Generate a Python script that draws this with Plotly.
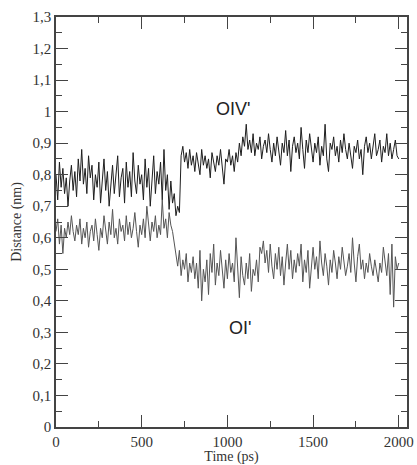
import plotly.graph_objects as go

time_ps = list(range(0, 2001, 10))

oiv_nm = [
    0.80, 0.72, 0.84, 0.76, 0.82, 0.74, 0.79, 0.70, 0.78, 0.83, 0.75,
    0.81, 0.73, 0.85, 0.78, 0.88, 0.77, 0.82, 0.74, 0.86, 0.79,
    0.83, 0.72, 0.80, 0.76, 0.84, 0.71, 0.78, 0.85, 0.75, 0.81,
    0.70, 0.77, 0.83, 0.74, 0.80, 0.86, 0.73, 0.79, 0.82, 0.71,
    0.84, 0.76, 0.81, 0.73, 0.87, 0.78, 0.74, 0.83, 0.77, 0.80,
    0.72, 0.85, 0.76, 0.82, 0.70, 0.79, 0.86, 0.74, 0.81, 0.77,
    0.84, 0.72, 0.88, 0.75, 0.80, 0.69, 0.78, 0.71, 0.74, 0.67,
    0.70, 0.68, 0.86, 0.89, 0.84, 0.87, 0.82, 0.88, 0.83, 0.86,
    0.81, 0.87, 0.84, 0.80, 0.88, 0.83, 0.86, 0.82, 0.85, 0.79,
    0.87, 0.84, 0.81, 0.86, 0.83, 0.88, 0.82, 0.77, 0.85, 0.84,
    0.88, 0.83, 0.86, 0.81, 0.87, 0.84, 0.90, 0.86, 0.92, 0.89,
    0.96, 0.88, 0.91, 0.87, 0.93, 0.86, 0.90, 0.88, 0.92, 0.85,
    0.89, 0.91, 0.87, 0.93, 0.88, 0.84, 0.90, 0.86, 0.92, 0.88,
    0.83, 0.90, 0.87, 0.94, 0.86, 0.91, 0.81, 0.89, 0.92, 0.87,
    0.90, 0.85, 0.95, 0.88, 0.82, 0.91, 0.87, 0.93, 0.89, 0.84,
    0.90, 0.87, 0.92, 0.83, 0.89, 0.86, 0.96, 0.85, 0.81, 0.90,
    0.88, 0.92, 0.86, 0.89, 0.84, 0.91, 0.87, 0.93, 0.88, 0.85,
    0.90, 0.86, 0.82, 0.89, 0.87, 0.91, 0.85, 0.88, 0.80, 0.89,
    0.92, 0.87, 0.90, 0.85, 0.89, 0.93, 0.86, 0.88, 0.91, 0.84,
    0.89, 0.87, 0.93, 0.86, 0.90, 0.85, 0.88, 0.91, 0.86, 0.85,
]

oi_nm = [
    0.62, 0.66, 0.58, 0.64, 0.55, 0.63, 0.60, 0.65, 0.61, 0.67, 0.62,
    0.59, 0.64, 0.61, 0.66, 0.58, 0.63, 0.60, 0.65, 0.57, 0.62,
    0.64, 0.59, 0.66, 0.61, 0.56, 0.63, 0.60, 0.67, 0.62, 0.58,
    0.65, 0.61, 0.69, 0.60, 0.63, 0.58, 0.66, 0.62, 0.64, 0.59,
    0.67, 0.61, 0.65, 0.60, 0.63, 0.68, 0.62, 0.57, 0.64, 0.61,
    0.66, 0.60, 0.70, 0.63, 0.59, 0.65, 0.62, 0.67, 0.60, 0.64,
    0.61, 0.72, 0.63, 0.66, 0.60, 0.68, 0.64, 0.62, 0.58, 0.54,
    0.51, 0.56, 0.48, 0.53, 0.50, 0.55, 0.46, 0.52, 0.49, 0.54,
    0.47, 0.52, 0.44, 0.56, 0.40, 0.50, 0.46, 0.53, 0.42, 0.55,
    0.49, 0.58, 0.45, 0.52, 0.48, 0.56, 0.50, 0.44, 0.53, 0.47,
    0.55, 0.49, 0.52, 0.46, 0.60, 0.51, 0.41, 0.54, 0.48, 0.45,
    0.52, 0.47, 0.55, 0.43, 0.50, 0.48, 0.53, 0.46, 0.57, 0.55,
    0.59, 0.52, 0.56, 0.49, 0.58, 0.51, 0.47, 0.55, 0.50, 0.57,
    0.48, 0.54, 0.45, 0.52, 0.58, 0.50, 0.56, 0.47, 0.53, 0.49,
    0.55, 0.51, 0.58, 0.46, 0.53, 0.49, 0.56, 0.44, 0.52, 0.57,
    0.50, 0.54, 0.47, 0.59, 0.52, 0.48, 0.55, 0.51, 0.45, 0.53,
    0.49, 0.56, 0.52, 0.47, 0.54, 0.50, 0.57, 0.53, 0.48, 0.51,
    0.55, 0.49, 0.60, 0.52, 0.46, 0.54, 0.58, 0.50, 0.53, 0.47,
    0.52, 0.49, 0.55, 0.51, 0.48, 0.53, 0.50, 0.46, 0.52, 0.49,
    0.57, 0.52, 0.48, 0.55, 0.42, 0.58, 0.38, 0.54, 0.50, 0.52,
]

y_tickvals = [0, 0.1, 0.2, 0.3, 0.4, 0.5, 0.6, 0.7, 0.8, 0.9, 1.0, 1.1, 1.2, 1.3]
y_ticktext = ["0", "0,1", "0,2", "0,3", "0,4", "0,5", "0,6", "0,7", "0,8", "0,9",
              "1", "1,1", "1,2", "1,3"]
x_tickvals = [0, 500, 1000, 1500, 2000]
x_ticktext = ["0", "500", "1000", "1500", "2000"]

labels = ["OIV'", "OI'"]
label_x = [1035, 1076]
label_y = [1.008, 0.314]

fig = go.Figure()
fig.add_trace(go.Scatter(x=time_ps, y=oiv_nm, mode="lines",
                         line=dict(color="#1e1e1e", width=1), name="OIV'"))
fig.add_trace(go.Scatter(x=time_ps, y=oi_nm, mode="lines",
                         line=dict(color="#555555", width=1), name="OI'"))

for t, lx, ly in zip(labels, label_x, label_y):
    fig.add_annotation(x=lx, y=ly, text=t, showarrow=False,
                       font=dict(family="Liberation Sans, Arial, sans-serif", size=18, color="#222"))

serif = "Liberation Serif, Times New Roman, serif"
fig.update_layout(
    width=417, height=465,
    margin=dict(l=56, r=10, t=17, b=38),
    paper_bgcolor="white", plot_bgcolor="white",
    showlegend=False,
    font=dict(family=serif, size=15, color="#333"),
)
fig.update_xaxes(
    range=[0, 2048], tickvals=x_tickvals, ticktext=x_ticktext,
    ticks="inside", ticklen=12, tickwidth=1.2, tickcolor="#444",
    minor=dict(ticks="inside", ticklen=6, dtick=250, tick0=0, tickcolor="#444", tickwidth=1.2),
    showline=True, linecolor="#444", linewidth=1.5, mirror="allticks",
    showgrid=False, zeroline=False, automargin=False,
    title=dict(text="Time (ps)", font=dict(family=serif, size=14, color="#333"), standoff=2),
    tickfont=dict(family=serif, size=15, color="#333"),
)
fig.update_yaxes(
    range=[0, 1.3], tickvals=y_tickvals, ticktext=y_ticktext,
    ticks="inside", ticklen=12, tickwidth=1.2, tickcolor="#444",
    minor=dict(ticks="inside", ticklen=6, dtick=0.05, tick0=0, tickcolor="#444", tickwidth=1.2),
    showline=True, linecolor="#444", linewidth=1.5, mirror="allticks",
    showgrid=False, zeroline=False, automargin=False,
    title=dict(text="Distance (nm)", font=dict(family=serif, size=14, color="#333"), standoff=8),
    tickfont=dict(family=serif, size=15, color="#333"),
)

fig.write_html("out.html",
               config={"displayModeBar": False},
               post_script="document.body.style.margin='0';document.body.style.overflow='hidden';")
